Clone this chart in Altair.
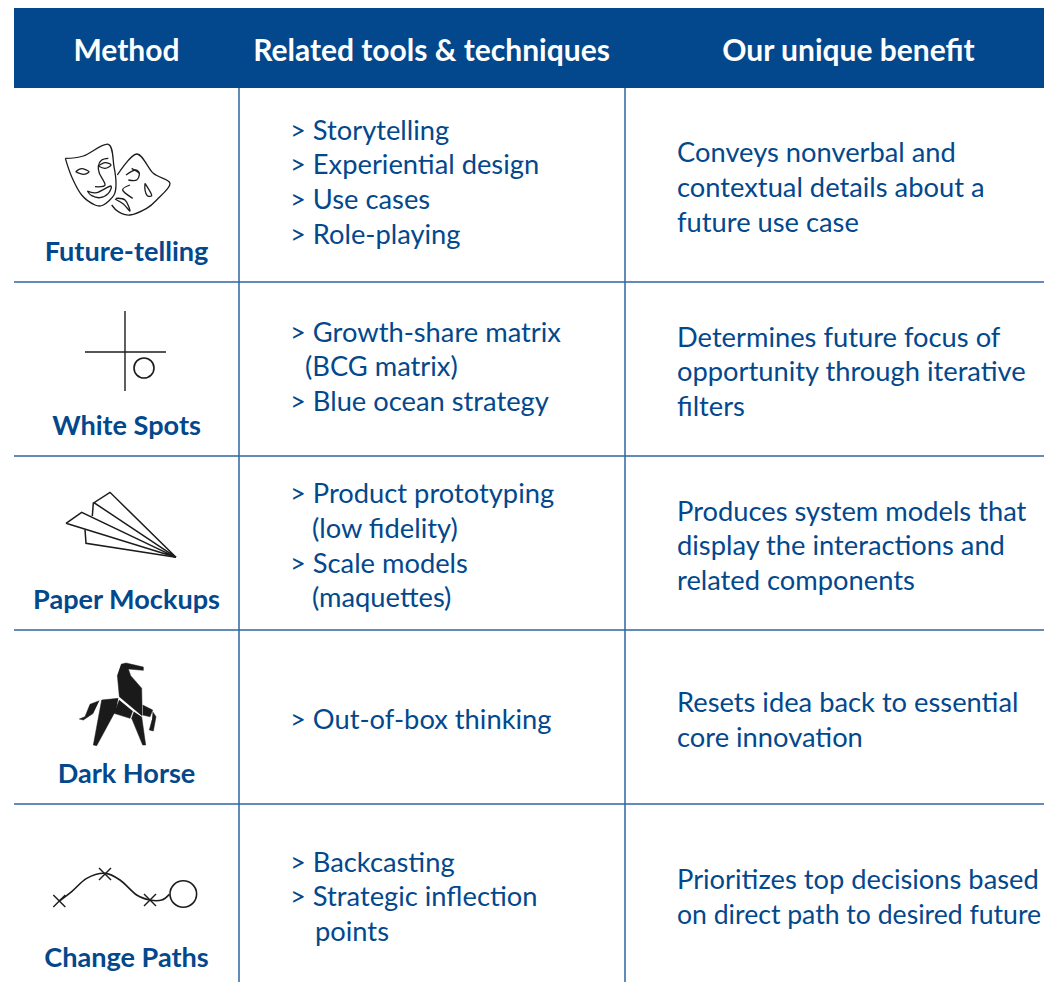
import altair as alt
import pandas as pd

FONT = "Lato"
BLUE = "#03488c"
RULE = "#2f65a3"
INK = "#1c1c1c"

headers = ["Method", "Related tools & techniques", "Our unique benefit"]
header_x = [126.5, 431.5, 848.5]
header_y = [52, 52, 52]
methods = ["Future-telling", "White Spots", "Paper Mockups", "Dark Horse", "Change Paths"]
method_y = [253, 427, 601, 775, 959]

tools = [
    (290, 132, "> Storytelling"), (290, 166, "> Experiential design"), (290, 201, "> Use cases"),
    (290, 236, "> Role-playing"),
    (290, 334, "> Growth-share matrix"), (305, 368, "(BCG matrix)"), (290, 403, "> Blue ocean strategy"),
    (290, 495, "> Product prototyping"), (312, 530, "(low fidelity)"), (290, 565, "> Scale models"),
    (312, 599, "(maquettes)"),
    (290, 721, "> Out-of-box thinking"),
    (290, 864, "> Backcasting"), (290, 898, "> Strategic inflection"), (315, 933, "points"),
]
benefits = [
    (154, "Conveys nonverbal and"), (189, "contextual details about a"), (224, "future use case"),
    (339, "Determines future focus of"), (373, "opportunity through iterative"), (408, "filters"),
    (513, "Produces system models that"), (547, "display the interactions and"), (582, "related components"),
    (704, "Resets idea back to essential"), (739, "core innovation"),
    (881, "Prioritizes top decisions based"),
]
benefit_last = [(916, "on direct path to desired future")]
row_rules = [88, 282, 456, 630, 804]
col_rules = [239, 625]

# icon outlines at 3x, with the crop origin of each
mask_o = (40, 130)
masks_curved = [
    [(76,85),(130,78),(205,43),(222,110),(228,160),(222,195),(190,225),(165,225),(125,195),(95,140),(76,85)],
    [(107,125),(125,116),(147,125),(130,133),(107,125)],
    [(175,108),(195,98),(213,105),(195,115),(175,108)],
    [(205,85),(185,90),(175,108),(178,130),(195,165),(165,170)],
    [(142,183),(170,188),(212,168),(205,190),(180,203),(155,197),(142,183)],
    [(232,135),(290,72),(340,130),(390,160),(350,210),(320,235),(270,255),(235,245),(215,225)],
    [(258,135),(285,120),(298,130),(290,150),(265,150)],
    [(275,115),(292,125),(298,130)],
    [(315,160),(335,195),(322,197),(315,180),(315,160)],
    [(270,165),(248,180),(278,205)],
    [(228,205),(255,210),(270,243),(250,222),(225,207)],
]
plane_o = (40, 480)
plane = [
    [(408,232),(210,37),(162,68),(408,232)],
    [(160,68),(157,108)],
    [(78,130),(125,97),(408,232),(78,130)],
    [(135,148),(138,190),(408,232)],
]
horse_o = (60, 655)
horse = [
    [(183,28),(198,24),(250,36),(250,46),(205,42),(212,62),(245,100),(246,150),(246,182),(178,125),(172,60)],
    [(175,130),(125,135),(100,270),(110,272),(168,165)],
    [(118,137),(90,148),(75,185),(58,192),(70,195),(100,175)],
    [(178,135),(162,175),(210,190),(218,168)],
    [(222,170),(215,190),(248,270),(257,270),(245,185)],
    [(248,150),(278,165),(270,185),(248,180)],
    [(278,170),(288,185),(280,228),(268,225),(276,195)],
]
path_o = (40, 855)
path_curve = [(58,138),(95,110),(140,70),(195,55),(240,75),(290,120),(330,135),(365,135),(388,118)]
path_marks = [(58,138),(195,57),(330,135)]
path_mark_arm = 18
cross = [[(125,311),(125,391)], [(85,352),(166,352)]]
rings = [(144,368,400), (183.3,894,708)]


def lines_df(groups, origin=None):
    rows = []
    for g, pts in enumerate(groups):
        for i, (x, y) in enumerate(pts):
            if origin:
                x, y = origin[0] + x / 3, origin[1] + y / 3
            rows.append({"x": x, "y": y, "g": g, "i": i})
    return pd.DataFrame(rows)


X = alt.X("x:Q", scale=alt.Scale(domain=[8, 1044], nice=False, zero=False), axis=None)
Y = alt.Y("y:Q", scale=alt.Scale(domain=[982, 8], nice=False, zero=False), axis=None)

header_rect = alt.Chart(pd.DataFrame({"x": [14], "x2": [1044], "y": [8], "y2": [88]})).mark_rect(color=BLUE).encode(
    x=X, x2="x2:Q", y=Y, y2="y2:Q")

vr = alt.Chart(pd.DataFrame({"x": col_rules, "y": [88, 88], "y2": [982, 982]})).mark_rule(
    color=RULE, strokeWidth=1.5).encode(x=X, y=Y, y2="y2:Q")
hr = alt.Chart(pd.DataFrame({"y": row_rules[1:], "x": [14]*4, "x2": [1044]*4})).mark_rule(
    color=RULE, strokeWidth=1.5).encode(x=X, x2="x2:Q", y=Y)

hdr = alt.Chart(pd.DataFrame({"x": header_x, "y": header_y, "t": headers})).mark_text(
    font=FONT, fontWeight="bold", fontSize=30, color="white", align="center", baseline="middle"
).encode(x=X, y=Y, text="t:N")
meth = alt.Chart(pd.DataFrame({"x": [126.5]*5, "y": method_y, "t": methods})).mark_text(
    font=FONT, fontWeight="bold", fontSize=27.1, color=BLUE, align="center", baseline="middle"
).encode(x=X, y=Y, text="t:N")
tool_txt = alt.Chart(pd.DataFrame(tools, columns=["x", "y", "t"])).mark_text(
    font=FONT, fontSize=27.3, color=BLUE, align="left", baseline="middle"
).encode(x=X, y=Y, text="t:N")
ben_txt = alt.Chart(pd.DataFrame(benefits, columns=["y", "t"]).assign(x=677)).mark_text(
    font=FONT, fontSize=27.3, color=BLUE, align="left", baseline="middle"
).encode(x=X, y=Y, text="t:N")
ben_last = alt.Chart(pd.DataFrame(benefit_last, columns=["y", "t"]).assign(x=677)).mark_text(
    font=FONT, fontSize=26.6, color=BLUE, align="left", baseline="middle"
).encode(x=X, y=Y, text="t:N")


def stroke(df, width=1.4, interp="linear"):
    return alt.Chart(df).mark_line(color=INK, strokeWidth=width, interpolate=interp).encode(
        x=X, y=Y, detail="g:N", order="i:Q")


marks_x = []
for (cx, cy) in path_marks:
    marks_x.append([(cx - path_mark_arm, cy - path_mark_arm), (cx + path_mark_arm, cy + path_mark_arm)])
    marks_x.append([(cx - path_mark_arm, cy + path_mark_arm), (cx + path_mark_arm, cy - path_mark_arm)])

horse_layer = alt.Chart(lines_df(horse, horse_o)).mark_line(
    color="#1a1a1a", fill="#1a1a1a", strokeWidth=0.5
).encode(x=X, y=Y, detail="g:N", order="i:Q")

ring_df = pd.DataFrame(rings, columns=["x", "y", "s"])
ring_layer = alt.Chart(ring_df).mark_point(shape="circle", filled=False, color=INK, strokeWidth=1.6, opacity=1).encode(
    x=X, y=Y, size=alt.Size("s:Q", scale=None, legend=None))

chart = alt.layer(
    header_rect, vr, hr, hdr, meth, tool_txt, ben_txt, ben_last,
    stroke(lines_df(masks_curved, mask_o), 1.3, "cardinal"),
    stroke(lines_df(plane, plane_o), 1.5),
    horse_layer,
    stroke(lines_df(cross), 1.4),
    stroke(lines_df([path_curve], path_o), 1.6, "cardinal"),
    stroke(lines_df(marks_x, path_o), 1.4),
    ring_layer,
).properties(
    width=1036, height=974, padding=0, autosize=alt.AutoSizeParams(type="none"), background="white"
).configure_view(stroke=None)

chart.save("out.html", embed_options={"renderer": "svg", "actions": False})
